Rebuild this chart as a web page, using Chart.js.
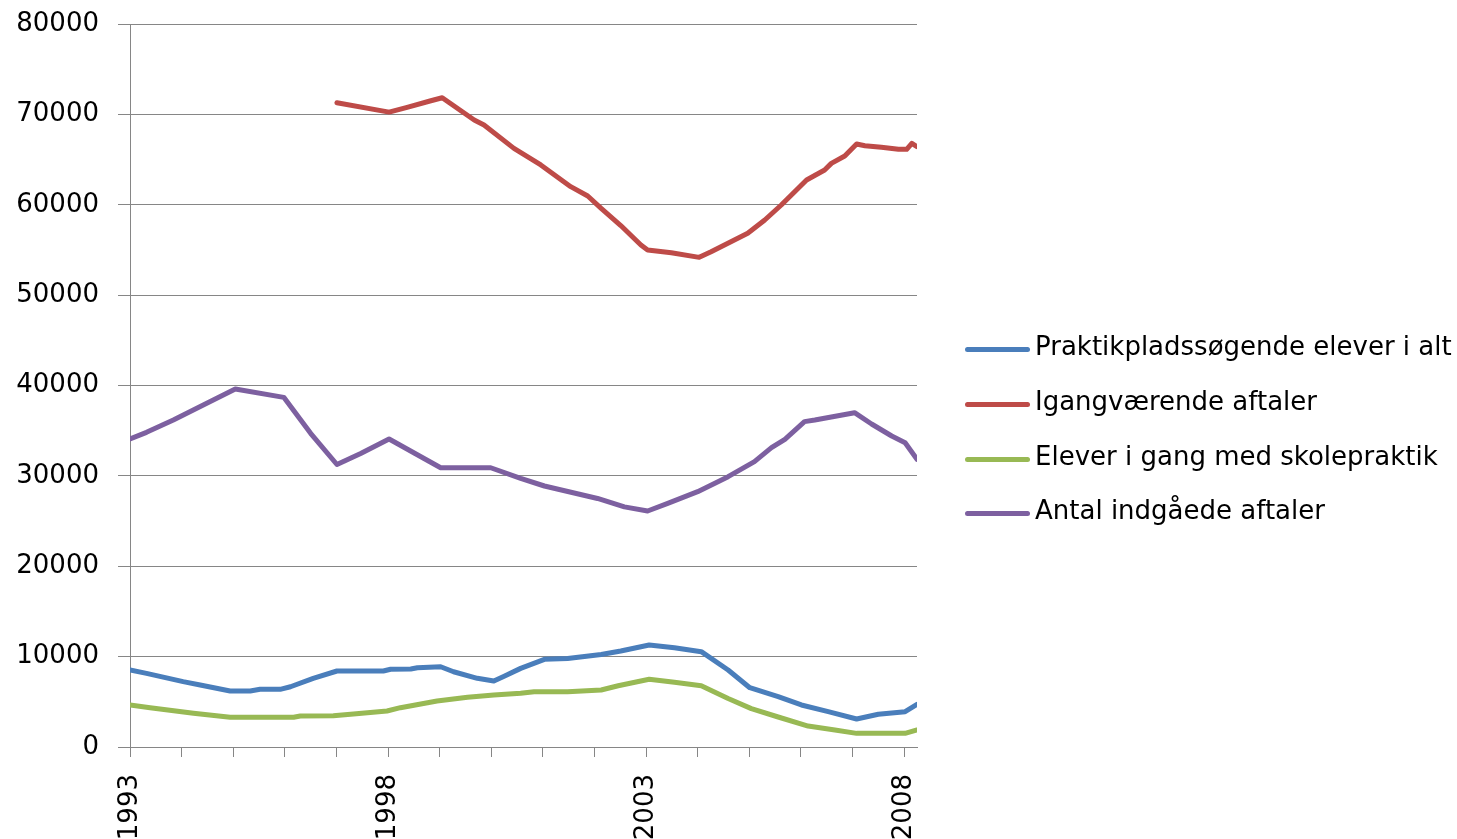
<!DOCTYPE html>
<html>
<head>
<meta charset="utf-8">
<script src="https://cdn.jsdelivr.net/npm/chart.js@4"></script>
<style>
    body { margin: 0; background: #fff; }
    #wrap { position: relative; width: 1457px; height: 839px; overflow: hidden; }
    #legend { position: absolute; left: 965px; top: 330px; font-family: "DejaVu Sans", sans-serif; font-size: 26px; color: #000; }
    .item { position: absolute; left: 0; height: 40px; white-space: nowrap; }
    .item .line { position: absolute; left: 0; top: 17px; width: 65px; height: 5px; border-radius: 3px; }
    .item span { position: absolute; left: 70px; top: 1px; }
</style>
</head>
<body>
<div id="wrap">
    <canvas id="chart" width="1457" height="839"></canvas>
    <div id="legend"></div>
</div>
<script>
// Serienavne og farver
const seriesNames = ['Praktikpladssøgende elever i alt', 'Igangværende aftaler', 'Elever i gang med skolepraktik', 'Antal indgåede aftaler'];
const seriesColors = ['#4A7EBB', '#BE4B48', '#98B954', '#7D60A0'];

// År (decimal) og værdier
const blueYears = [1993.00, 1993.32, 1994.03, 1994.36, 1994.94, 1995.33, 1995.52, 1995.91, 1996.11, 1996.55, 1997.01, 1997.91, 1998.05, 1998.44, 1998.57, 1999.02, 1999.27, 1999.73, 2000.05, 2000.24, 2000.57, 2001.03, 2001.48, 2002.13, 2002.51, 2003.06, 2003.55, 2004.07, 2004.59, 2005.01, 2005.56, 2006.01, 2006.53, 2007.08, 2007.50, 2008.02, 2008.25];
const blueValues = [8520, 8150, 7230, 6860, 6200, 6200, 6380, 6380, 6670, 7600, 8410, 8410, 8600, 8630, 8770, 8880, 8330, 7600, 7300, 7800, 8700, 9700, 9800, 10240, 10620, 11290, 10990, 10550, 8520, 6560, 5570, 4650, 3910, 3100, 3620, 3910, 4720];

const redYears = [1997.01, 1998.02, 1998.37, 1998.83, 1999.05, 1999.67, 1999.86, 2000.44, 2000.96, 2001.54, 2001.87, 2002.13, 2002.51, 2002.90, 2003.03, 2003.49, 2004.03, 2004.26, 2004.97, 2005.30, 2005.62, 2006.11, 2006.46, 2006.59, 2006.85, 2007.08, 2007.24, 2007.56, 2007.89, 2008.05, 2008.15, 2008.25];
const redValues = [71290, 70250, 70780, 71510, 71840, 69380, 68820, 66240, 64400, 62000, 60970, 59600, 57700, 55550, 54990, 54690, 54180, 54800, 56840, 58310, 59970, 62740, 63840, 64580, 65390, 66720, 66530, 66350, 66130, 66130, 66790, 66420];

const greenYears = [1993.00, 1993.39, 1994.23, 1994.94, 1996.17, 1996.30, 1996.94, 1997.33, 1997.98, 1998.24, 1998.95, 1999.54, 2000.05, 2000.57, 2000.83, 2001.48, 2002.13, 2002.46, 2003.06, 2003.55, 2004.07, 2004.59, 2005.04, 2005.56, 2006.14, 2006.66, 2007.08, 2008.02, 2008.25];
const greenValues = [4650, 4350, 3730, 3290, 3290, 3430, 3460, 3650, 3980, 4350, 5090, 5500, 5750, 5940, 6120, 6120, 6310, 6780, 7490, 7160, 6780, 5360, 4250, 3320, 2320, 1880, 1510, 1510, 1880];

const purpleYears = [1993.00, 1993.32, 1993.84, 1994.42, 1995.04, 1995.98, 1996.50, 1997.01, 1997.47, 1998.02, 1999.02, 1999.99, 2000.57, 2001.03, 2002.06, 2002.58, 2003.03, 2003.42, 2004.00, 2004.59, 2005.10, 2005.43, 2005.69, 2006.07, 2006.27, 2007.04, 2007.37, 2007.76, 2008.02, 2008.25];
const purpleValues = [34080, 34820, 36180, 37840, 39610, 38690, 34710, 31260, 32480, 34080, 30900, 30900, 29730, 28880, 27500, 26570, 26110, 26960, 28250, 29910, 31570, 33120, 34050, 36000, 36180, 36990, 35740, 34410, 33670, 31830];

// Akser
const yearTicks = [1993, 1994, 1995, 1996, 1997, 1998, 1999, 2000, 2001, 2002, 2003, 2004, 2005, 2006, 2007, 2008];
const labelledYears = [1993, 1998, 2003, 2008];
const yMin = 0, yMax = 80000, yStep = 10000;
const xMin = 1993, xMax = 2008.25;

const allYears = [blueYears, redYears, greenYears, purpleYears];
const allValues = [blueValues, redValues, greenValues, purpleValues];

const datasets = seriesNames.map((name, i) => ({
    label: name,
    data: allYears[i].map((x, j) => ({ x: x, y: allValues[i][j] })),
    borderColor: seriesColors[i],
    backgroundColor: seriesColors[i],
    borderWidth: 5,
    pointRadius: 0,
    tension: 0,
    fill: false,
    borderJoinStyle: 'round',
    borderCapStyle: 'round'
}));

const gray = '#868686';
const font = { family: '"DejaVu Sans", sans-serif', size: 26 };

new Chart(document.getElementById('chart').getContext('2d'), {
    type: 'line',
    data: { datasets: datasets },
    options: {
        responsive: false,
        devicePixelRatio: 1,
        animation: false,
        layout: { padding: { left: 0, top: 0, right: 540, bottom: 0 } },
        plugins: { legend: { display: false }, tooltip: { enabled: false } },
        scales: {
            x: {
                type: 'linear',
                min: xMin,
                max: xMax,
                afterBuildTicks: scale => { scale.ticks = yearTicks.map(v => ({ value: v })); },
                afterFit: scale => { scale.height = 92; },
                grid: { drawOnChartArea: false, drawTicks: true, tickLength: 10, color: gray, lineWidth: 1 },
                border: { color: gray, width: 1 },
                ticks: {
                    autoSkip: false,
                    maxRotation: 90,
                    minRotation: 90,
                    padding: 17,
                    color: '#000',
                    font: font,
                    callback: v => labelledYears.includes(v) ? String(v) : ''
                }
            },
            y: {
                min: yMin,
                max: yMax,
                afterFit: scale => { scale.width = 130; scale.paddingTop = 24; },
                grid: { color: gray, lineWidth: 1, tickLength: 12 },
                border: { color: gray, width: 1 },
                ticks: {
                    stepSize: yStep,
                    padding: 19,
                    color: '#000',
                    font: font,
                    callback: v => String(v)
                }
            }
        }
    }
});

// Legende
const legend = document.getElementById('legend');
seriesNames.forEach((name, i) => {
    const item = document.createElement('div');
    item.className = 'item';
    item.style.top = (i * 54.8) + 'px';
    item.innerHTML = '<div class="line" style="background:' + seriesColors[i] + '"></div><span>' + name + '</span>';
    legend.appendChild(item);
});
</script>
</body>
</html>
